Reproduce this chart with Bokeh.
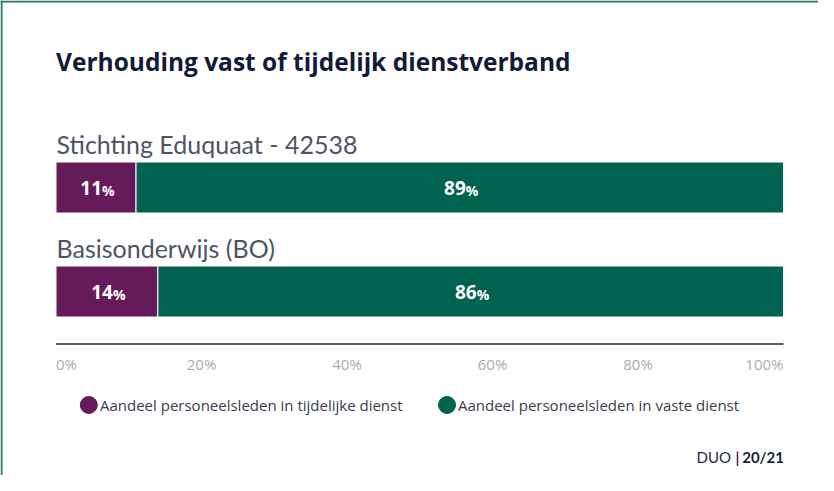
from bokeh.plotting import figure
from bokeh.models import Range1d, ColumnDataSource, Span
from bokeh.core.properties import value
from bokeh.embed import file_html
from bokeh.resources import INLINE

# ---------------- data ----------------
categories = ["Stichting Eduquaat - 42538", "Basisonderwijs (BO)"]
tijdelijk = [11, 14]
vast = [89, 86]
series_names = ["Aandeel personeelsleden in tijdelijke dienst",
                "Aandeel personeelsleden in vaste dienst"]
series_colors = ["#651b5a", "#00634f"]
tick_values = [0, 20, 40, 60, 80, 100]
tick_labels = ["0%", "20%", "40%", "60%", "80%", "100%"]
title_text = "Verhouding vast of tijdelijk dienstverband"
source_parts = ["DUO", "|", "20/21"]

# ---------------- layout ----------------
W, H = 818, 475
MARGIN = 8
X0_PX, X100_PX = 63.5, 791.0          # screen px of 0% and 100%
SCALE = (X100_PX - X0_PX) / 100.0
x_start = (MARGIN - X0_PX) / SCALE
x_end = 100 + (MARGIN + W - X100_PX) / SCALE


def sx(px):
    return (px - X0_PX) / SCALE


def sy(py):
    return py - MARGIN


BAR_TOP0 = 169.5
BAR_SPACING = 104.0
BAR_H = 51.0
LATO = value("Lato")
OPEN = value("Open Sans")

p = figure(width=W, height=H, x_range=Range1d(x_start, x_end),
           y_range=Range1d(H, 0), min_border=0, toolbar_location=None,
           output_backend="svg", x_axis_location=None, y_axis_location=None,
           outline_line_color=None, background_fill_color="white",
           border_fill_color="white")
p.grid.visible = False

ys = [sy(BAR_TOP0 + BAR_H / 2 + i * BAR_SPACING) for i in range(len(categories))]
total = [t + v for t, v in zip(tijdelijk, vast)]
src = ColumnDataSource(dict(
    y=ys, cat=categories, t=tijdelijk, v=vast, total=total,
    t_mid=[t / 2 for t in tijdelijk],
    v_mid=[t + v / 2 for t, v in zip(tijdelijk, vast)],
    t_lab=[str(t) for t in tijdelijk], v_lab=[str(v) for v in vast],
    pct=["%"] * len(categories),
    lab_y=[y - BAR_H / 2 - 18 for y in ys],
    val_y=[y + 0.5 for y in ys],
    pct_y=[y + 2.5 for y in ys],
))

p.hbar(y="y", left=0, right="t", height=BAR_H, source=src,
       fill_color=series_colors[0], line_color="white", line_width=1)
p.hbar(y="y", left="t", right="total", height=BAR_H, source=src,
       fill_color=series_colors[1], line_color="white", line_width=1)

# value labels inside bars
for xcol, lcol in (("t_mid", "t_lab"), ("v_mid", "v_lab")):
    p.text(x=xcol, y="val_y", text=lcol, source=src, text_align="right",
           text_baseline="middle", x_offset=6, text_color="white",
           text_font=OPEN, text_font_style="bold", text_font_size="19px")
    p.text(x=xcol, y="pct_y", text="pct", source=src, text_align="left",
           text_baseline="middle", x_offset=6, text_color="white",
           text_font=OPEN, text_font_style="bold", text_font_size="14px")

# category labels
p.text(x=sx(64), y="lab_y", text="cat", source=src, text_align="left",
       text_baseline="middle", text_color="#4e5466", text_font=LATO,
       text_font_size="25px")

# title
p.text(x=[sx(63.5)], y=[sy(68.5)], text=[title_text], text_align="left",
       text_baseline="middle", text_color="#121a3a", text_font=OPEN,
       text_font_style="bold", text_font_size="24.5px")

# axis line and tick labels
p.segment(x0=[tick_values[0]], x1=[tick_values[-1]], y0=[sy(351.5)],
          y1=[sy(351.5)], line_color="#1d2741", line_width=1.5)
tick_style = dict(text_baseline="middle", text_color="#a9abb5",
                  text_font=OPEN, text_font_size="15px")
ty = sy(371)
p.text(x=tick_values[:1], y=[ty], text=tick_labels[:1], text_align="left",
       **tick_style)
p.text(x=tick_values[1:-1], y=[ty] * (len(tick_values) - 2),
       text=tick_labels[1:-1], text_align="center", **tick_style)
p.text(x=tick_values[-1:], y=[ty], text=tick_labels[-1:], text_align="right",
       **tick_style)

# legend
ly = sy(412.5)
p.scatter(x=[sx(96.3), sx(454.5)], y=[ly, ly], size=17, marker="circle",
          fill_color=series_colors, line_color=series_colors)
p.text(x=[sx(107.5), sx(465.5)], y=[ly, ly], text=series_names,
       text_align="left", text_baseline="middle", text_color="#3b3d4c",
       text_font=OPEN, text_font_size="15px")

# source footer
fy = sy(464)
p.text(x=[sx(738.5)], y=[fy], text=[source_parts[0]], text_align="right",
       text_baseline="middle", text_color="#23294a", text_font=LATO,
       text_font_size="15px")
p.text(x=[sx(745)], y=[fy], text=[source_parts[1]], text_align="center",
       text_baseline="middle", text_color=series_colors[0], text_font=LATO,
       text_font_style="bold", text_font_size="15px")
p.text(x=[sx(791.5)], y=[fy], text=[source_parts[2]], text_align="right",
       text_baseline="middle", text_color="#1a1f3a", text_font=LATO,
       text_font_style="bold", text_font_size="15px")

# card border (top and left edges visible)
p.add_layout(Span(location=sx(9), dimension="height", line_color="#2a7563",
                  line_width=2))
p.add_layout(Span(location=sy(9), dimension="width", line_color="#2a7563",
                  line_width=2))

open("out.html", "w").write(file_html(p, INLINE))
